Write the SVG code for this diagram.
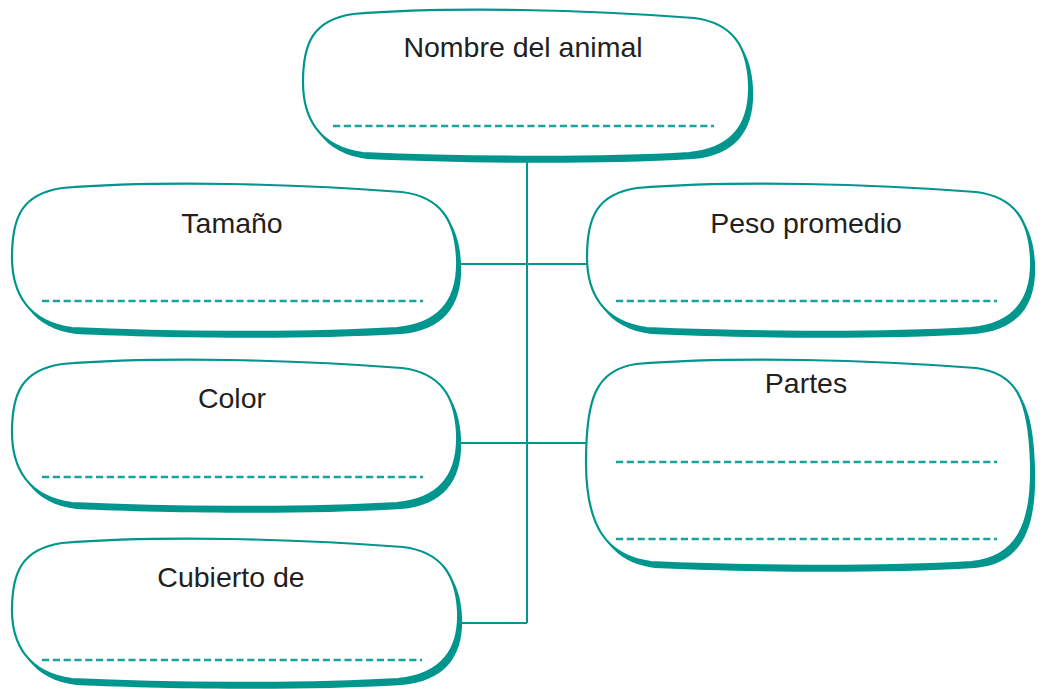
<svg xmlns="http://www.w3.org/2000/svg" width="1043" height="689" viewBox="0 0 1043 689">
<style>
.bg{fill:#ffffff}
.sh{fill:#00968e}
.ol{fill:#ffffff;stroke:#00968e;stroke-width:2.2}
.dl{stroke:#1aa39b;stroke-width:2.5;stroke-dasharray:7.2 3.6;fill:none}
.cn{stroke:#00968e;stroke-width:2;fill:none}
.tx{font-family:"Liberation Sans",Arial,sans-serif;font-size:28.5px;fill:#231f20;text-anchor:middle}
</style>
<rect class="bg" width="1043" height="689"/>
<g id="connectors">
<path class="cn" d="M527,158 V623 M456,264 H590 M456,443 H590 M456,623 H527"/>
</g>
<g id="node-nombre">
<path class="sh" transform="translate(4,6)" d="M 353,14 C 453,6 589,10 694,18 C 734,23 747,48 749,82 C 751,122 734,149 689,153 C 589,159 453,157 363,153 C 318,147 303,117 303,82 C 303,43 313,20 353,14 Z"/>
<path class="ol" d="M 353,14 C 453,6 589,10 694,18 C 734,23 747,48 749,82 C 751,122 734,149 689,153 C 589,159 453,157 363,153 C 318,147 303,117 303,82 C 303,43 313,20 353,14 Z"/>
<text class="tx" x="523" y="57">Nombre del animal</text>
<line class="dl" x1="333" y1="126" x2="714" y2="126"/>
</g>
<g id="node-tamano">
<path class="sh" transform="translate(4,6)" d="M 62,188 C 162,180 297,184 402,192 C 442,197 455,222 457,257 C 459,297 442,324 397,328 C 297,334 162,332 72,328 C 27,322 12,292 12,257 C 12,217 22,194 62,188 Z"/>
<path class="ol" d="M 62,188 C 162,180 297,184 402,192 C 442,197 455,222 457,257 C 459,297 442,324 397,328 C 297,334 162,332 72,328 C 27,322 12,292 12,257 C 12,217 22,194 62,188 Z"/>
<text class="tx" x="232" y="233">Tamaño</text>
<line class="dl" x1="42" y1="301" x2="423" y2="301"/>
</g>
<g id="node-peso">
<path class="sh" transform="translate(4,6)" d="M 637,188 C 737,180 871,184 976,192 C 1016,197 1029,222 1031,257 C 1033,297 1016,324 971,328 C 871,334 737,332 647,328 C 602,322 587,292 587,257 C 587,217 597,194 637,188 Z"/>
<path class="ol" d="M 637,188 C 737,180 871,184 976,192 C 1016,197 1029,222 1031,257 C 1033,297 1016,324 971,328 C 871,334 737,332 647,328 C 602,322 587,292 587,257 C 587,217 597,194 637,188 Z"/>
<text class="tx" x="806" y="233">Peso promedio</text>
<line class="dl" x1="616" y1="301" x2="997" y2="301"/>
</g>
<g id="node-color">
<path class="sh" transform="translate(4,6)" d="M 62,364 C 162,356 297,360 402,368 C 442,373 455,398 457,432 C 459,472 442,499 397,503 C 297,509 162,507 72,503 C 27,497 12,467 12,432 C 12,393 22,370 62,364 Z"/>
<path class="ol" d="M 62,364 C 162,356 297,360 402,368 C 442,373 455,398 457,432 C 459,472 442,499 397,503 C 297,509 162,507 72,503 C 27,497 12,467 12,432 C 12,393 22,370 62,364 Z"/>
<text class="tx" x="232" y="408">Color</text>
<line class="dl" x1="42" y1="477" x2="423" y2="477"/>
</g>
<g id="node-partes">
<path class="sh" transform="translate(4,6)" d="M 636,364 C 736,356 871,360 976,368 C 1016,373 1029,398 1031,462 C 1033,526 1016,558 971,562 C 871,568 736,566 651,562 C 606,556 586,526 586,462 C 586,398 596,370 636,364 Z"/>
<path class="ol" d="M 636,364 C 736,356 871,360 976,368 C 1016,373 1029,398 1031,462 C 1033,526 1016,558 971,562 C 871,568 736,566 651,562 C 606,556 586,526 586,462 C 586,398 596,370 636,364 Z"/>
<text class="tx" x="806" y="393">Partes</text>
<line class="dl" x1="616" y1="462" x2="997" y2="462"/>
<line class="dl" x1="616" y1="539" x2="997" y2="539"/>
</g>
<g id="node-cubierto">
<path class="sh" transform="translate(4,6)" d="M 62,543 C 162,535 298,539 403,547 C 443,552 456,577 458,610 C 460,648 443,675 398,679 C 298,685 162,683 72,679 C 27,673 12,643 12,610 C 12,572 22,549 62,543 Z"/>
<path class="ol" d="M 62,543 C 162,535 298,539 403,547 C 443,552 456,577 458,610 C 460,648 443,675 398,679 C 298,685 162,683 72,679 C 27,673 12,643 12,610 C 12,572 22,549 62,543 Z"/>
<text class="tx" x="231" y="587">Cubierto de</text>
<line class="dl" x1="42" y1="660" x2="422" y2="660"/>
</g>
</svg>
